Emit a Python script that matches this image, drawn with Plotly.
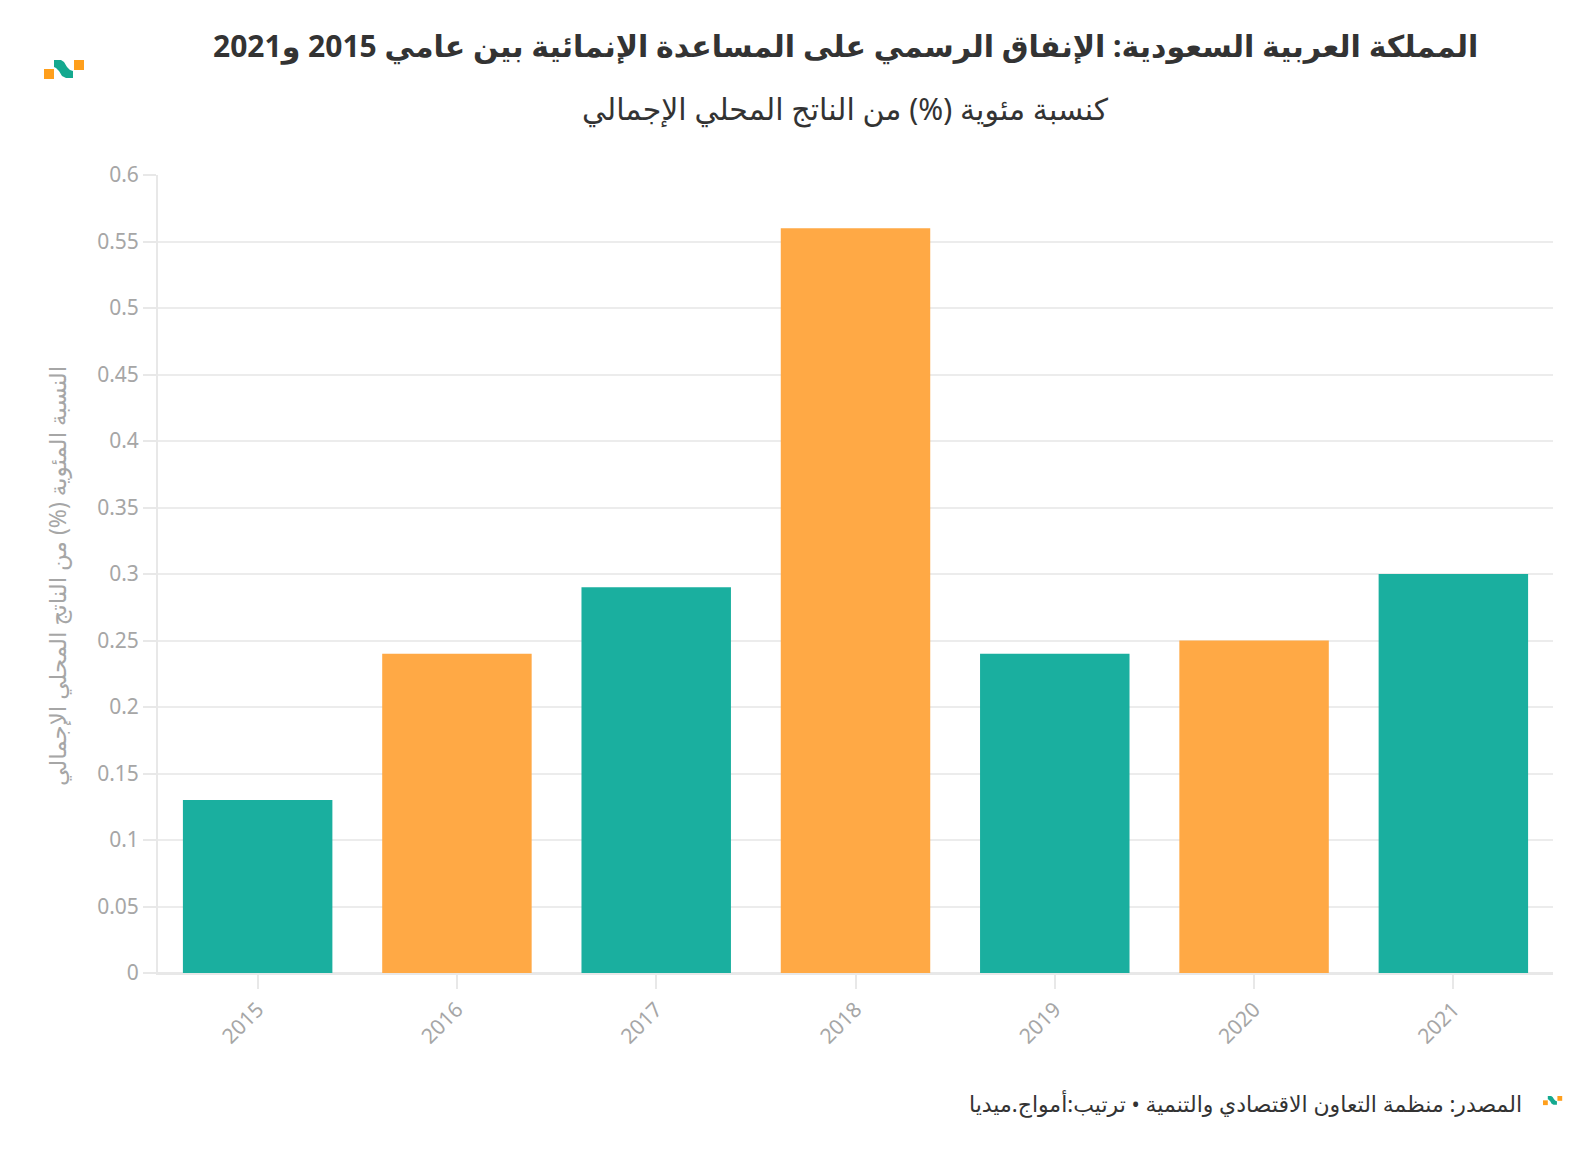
import plotly.graph_objects as go

years = ["2015", "2016", "2017", "2018", "2019", "2020", "2021"]
values = [0.13, 0.24, 0.29, 0.56, 0.24, 0.25, 0.30]
bar_colors = ["#1aaf9f", "#ffa945", "#1aaf9f", "#ffa945", "#1aaf9f", "#ffa945", "#1aaf9f"]
y_ticks = [0, 0.05, 0.1, 0.15, 0.2, 0.25, 0.3, 0.35, 0.4, 0.45, 0.5, 0.55, 0.6]
y_tick_text = ["0", "0.05", "0.1", "0.15", "0.2", "0.25", "0.3", "0.35", "0.4", "0.45", "0.5", "0.55", "0.6"]

title = "المملكة العربية السعودية: الإنفاق الرسمي على المساعدة الإنمائية بين عامي 2015 و2021"
subtitle = "كنسبة مئوية (%) من الناتج المحلي الإجمالي"
y_title = "النسبة المئوية (%) من الناتج المحلي الإجمالي"
footer = "المصدر: منظمة التعاون الاقتصادي والتنمية • ترتيب:أمواج.ميديا"

W, H = 1592, 1150
L, R, T, B = 158, 39, 175, 177
PW, PH = W - L - R, H - T - B

def px(x):
    return (x - L) / PW

def py(y):
    return (H - B - y) / PH

FONT = "Source Sans Pro, Noto Sans, DejaVu Sans, sans-serif"

fig = go.Figure(go.Bar(
    x=years, y=values, marker=dict(color=bar_colors, line=dict(width=0)),
    hoverinfo="x+y",
))

fig.update_layout(
    width=W, height=H,
    margin=dict(l=L, r=R, t=T, b=B),
    paper_bgcolor="white", plot_bgcolor="white",
    bargap=0.25,
    showlegend=False,
    font=dict(family=FONT),
)
fig.update_xaxes(
    showgrid=False, showline=True, linecolor="#e8e8e8", linewidth=2,
    ticks="outside", ticklen=14, tickwidth=2, tickcolor="#e8e8e8",
    tickangle=-45, tickfont=dict(size=21, color="#a6a6a6"),
)
fig.update_yaxes(
    range=[0, 0.6], tickvals=y_ticks, ticktext=y_tick_text,
    showgrid=True, gridcolor="#ececec", gridwidth=2,
    showline=True, linecolor="#e8e8e8", linewidth=2,
    zeroline=True, zerolinecolor="#e8e8e8", zerolinewidth=2,
    ticks="outside", ticklen=13, tickwidth=2, tickcolor="#e8e8e8",
    tickfont=dict(size=21, color="#a6a6a6"),
)

ann = [
    dict(text="<b>" + title + "</b>", x=px(845), y=py(45), font=dict(size=30, color="#333333")),
    dict(text=subtitle, x=px(845), y=py(108), font=dict(size=30, color="#333333")),
    dict(text=y_title, x=px(57), y=py(576), textangle=-90, font=dict(size=23, color="#a6a6a6")),
]
for a in ann:
    a.update(xref="paper", yref="paper", showarrow=False, xanchor="center", yanchor="middle")
fig.add_annotation(**ann[0])
fig.add_annotation(**ann[1])
fig.add_annotation(**ann[2])
fig.add_annotation(text=footer, xref="paper", yref="paper", x=px(1524), y=py(1103),
                   xanchor="right", yanchor="middle", showarrow=False,
                   font=dict(size=22, color="#333333"))

def logo(x0, y0, s):
    # x0, y0: top-left pixel, s: scale (1 = 40px wide)
    shapes = []
    def rect(a, b, c, d, col):
        shapes.append(dict(type="rect", xref="paper", yref="paper",
                           x0=px(x0 + a * s), x1=px(x0 + c * s), y0=py(y0 + b * s), y1=py(y0 + d * s),
                           fillcolor=col, line=dict(width=0), layer="above"))
    rect(0, 9, 10, 19, "#ff9f1c")
    rect(30, 0, 40, 10, "#ff9f1c")
    pts = [(10, 0), (17, 0), (20, 2), (23, 7), (26, 10), (29, 11), (29, 18), (22, 18), (18, 16), (15, 11), (12, 8), (10, 7)]
    path = "M " + " L ".join(f"{px(x0 + a * s)},{py(y0 + b * s)}" for a, b in pts) + " Z"
    shapes.append(dict(type="path", xref="paper", yref="paper", path=path,
                       fillcolor="#14a98f", line=dict(width=0), layer="above"))
    return shapes

shapes = logo(44, 60, 1.0) + logo(1543, 1096, 0.48)
fig.update_layout(shapes=shapes)

fig.write_html("out.html", config={"displayModeBar": False},
               post_script="document.body.style.margin='0';")
